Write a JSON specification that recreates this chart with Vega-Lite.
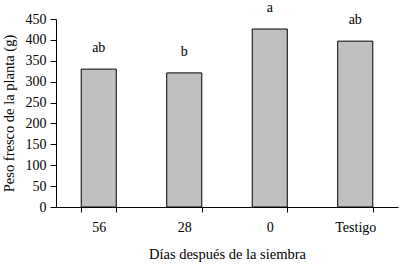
{
  "$schema": "https://vega.github.io/schema/vega-lite/v6.json",
  "width": 342,
  "height": 188,
  "autosize": {"type": "none"},
  "padding": {"left": 56, "top": 19, "right": 1, "bottom": 57},
  "background": "white",
  "config": {
    "view": {"stroke": null},
    "font": "Liberation Serif, Times New Roman, serif",
    "axis": {
      "labelFont": "Liberation Serif, Times New Roman, serif",
      "titleFont": "Liberation Serif, Times New Roman, serif",
      "labelFontSize": 14,
      "titleFontSize": 14.5,
      "titleFontWeight": "normal",
      "labelColor": "black",
      "titleColor": "black",
      "domainColor": "black",
      "tickColor": "black",
      "grid": false
    }
  },
  "data": {
    "values": [
      {"dias": "56", "peso": 330, "letra": "ab"},
      {"dias": "28", "peso": 321, "letra": "b"},
      {"dias": "0", "peso": 426, "letra": "a"},
      {"dias": "Testigo", "peso": 397, "letra": "ab"}
    ]
  },
  "encoding": {
    "x": {
      "field": "dias",
      "type": "nominal",
      "sort": ["56", "28", "0", "Testigo"],
      "scale": {"paddingInner": 0.59, "paddingOuter": 0.295},
      "axis": {
        "title": "Días después de la siembra",
        "labelAngle": 0,
        "tickBand": "extent",
        "tickSize": 5,
        "labelPadding": 8,
        "titlePadding": 13
      }
    },
    "y": {
      "field": "peso",
      "type": "quantitative",
      "scale": {"domain": [0, 450]},
      "axis": {
        "title": "Peso fresco de la planta (g)",
        "values": [0, 50, 100, 150, 200, 250, 300, 350, 400, 450],
        "tickSize": 6,
        "labelPadding": 4,
        "titlePadding": 9
      }
    }
  },
  "layer": [
    {
      "mark": {"type": "bar", "fill": "#c0c0c0", "stroke": "black", "strokeWidth": 1}
    },
    {
      "mark": {"type": "text", "fontSize": 14, "font": "Liberation Serif, Times New Roman, serif", "color": "black", "baseline": "bottom", "dy": -14},
      "encoding": {"text": {"field": "letra"}}
    }
  ]
}
